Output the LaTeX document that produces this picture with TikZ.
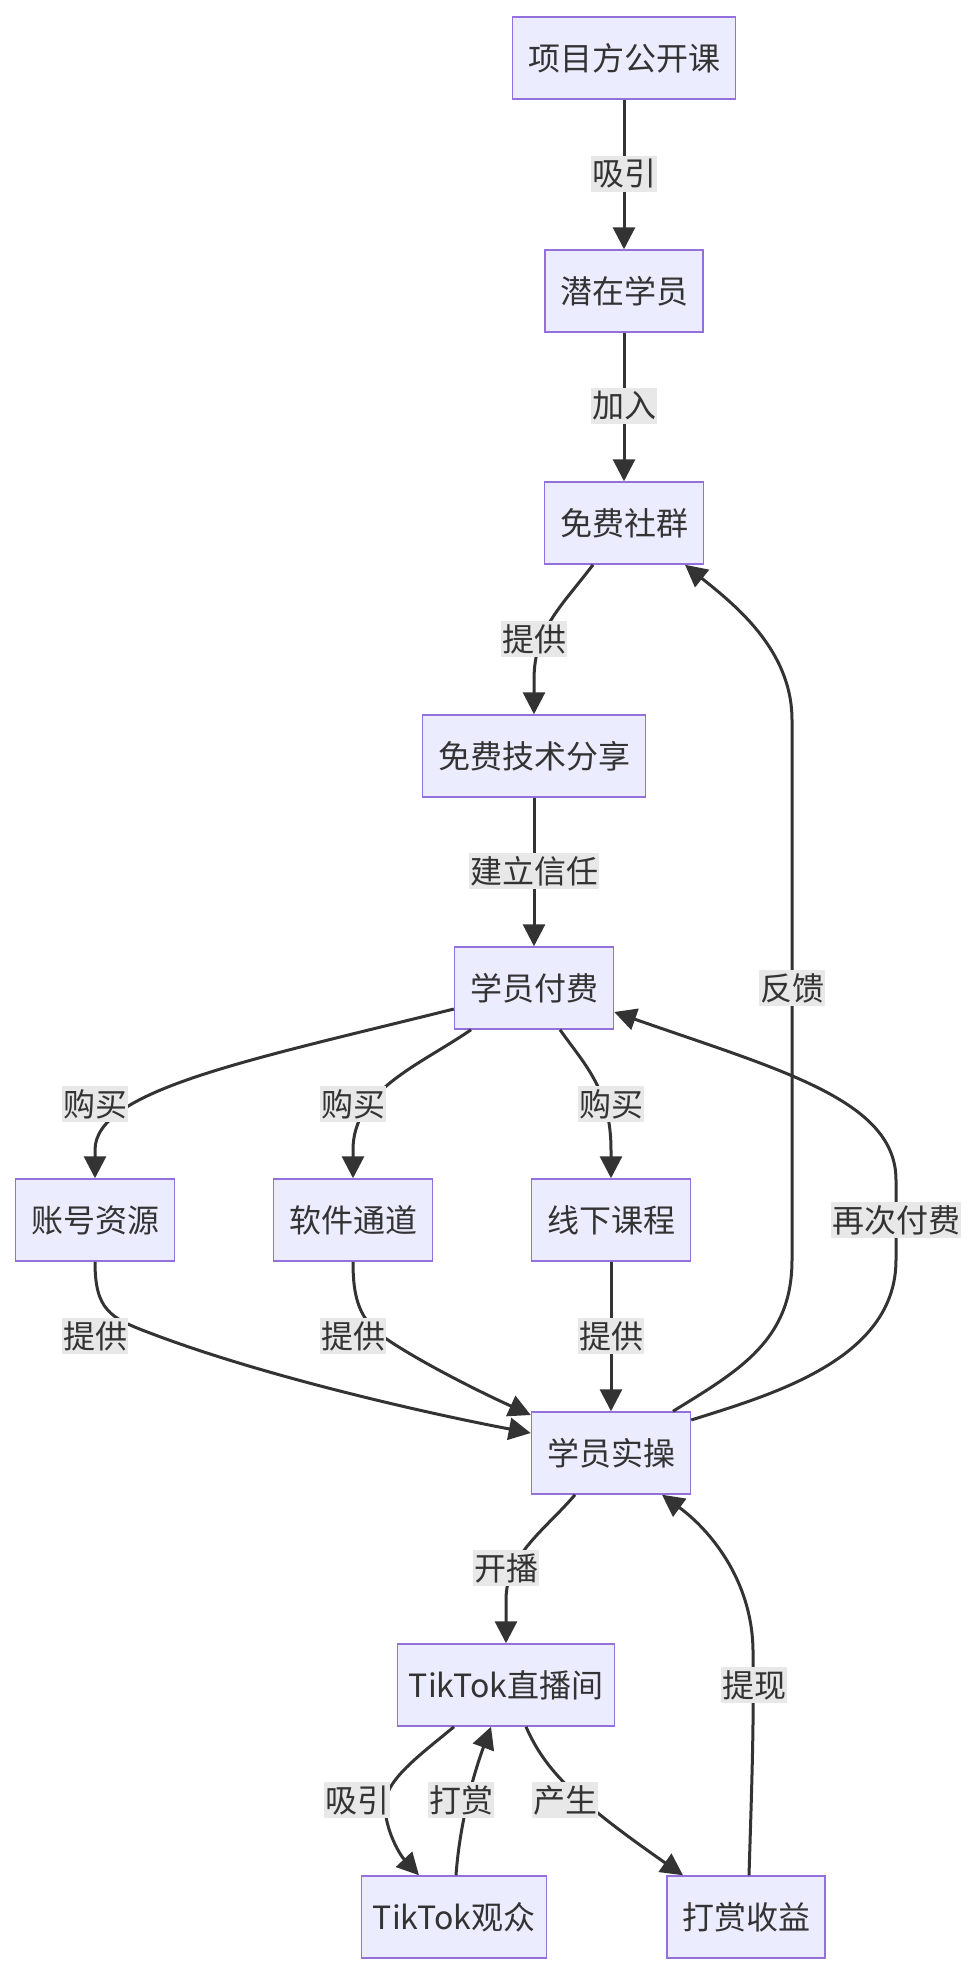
\documentclass[tikz,border=0pt]{standalone}
\usepackage{fontspec}
\setmainfont{Noto Sans CJK SC}
\usetikzlibrary{arrows.meta}
\definecolor{nodefill}{RGB}{236,236,255}
\definecolor{nodeline}{RGB}{147,112,219}
\definecolor{ink}{RGB}{51,51,51}
\definecolor{lblbg}{RGB}{232,232,232}
\begin{document}
\begin{tikzpicture}[x=1pt,y=-1pt,
  box/.style={draw=nodeline, fill=nodefill, line width=1.5pt, minimum height=82pt, inner sep=0pt, text=ink, font=\fontsize{32}{38}\selectfont},
  lbl/.style={fill=lblbg, text=ink, inner xsep=1pt, inner ysep=3pt, font=\fontsize{32}{38}\selectfont},
  edge/.style={draw=ink, line width=3pt, -{Triangle[length=22pt,width=22pt]}}]
\useasboundingbox (0,0) rectangle (976,1974);
% nodes
\node[box, minimum width=223pt] (A) at (624,58) {项目方公开课};
\node[box, minimum width=158pt] (B) at (624,291) {潜在学员};
\node[box, minimum width=159pt] (C) at (624,523) {免费社群};
\node[box, minimum width=223pt] (D) at (534,756) {免费技术分享};
\node[box, minimum width=159pt] (E) at (534,988) {学员付费};
\node[box, minimum width=159pt] (F) at (95,1220) {账号资源};
\node[box, minimum width=159pt] (G) at (353,1220) {软件通道};
\node[box, minimum width=159pt] (H) at (611,1220) {线下课程};
\node[box, minimum width=159pt] (I) at (611,1453) {学员实操};
\node[box, minimum width=217pt] (J) at (506,1685) {TikTok直播间};
\node[box, minimum width=185pt] (K) at (454,1917) {TikTok观众};
\node[box, minimum width=158pt] (L) at (746,1917) {打赏收益};
% edges
\draw[edge] (A) -- (B);
\draw[edge] (B) -- (C);
\draw[edge] ([xshift=-31pt]C.south) .. controls (560,608) and (534,630) .. (534,680) -- (D.north);
\draw[edge] (D) -- (E);
\draw[edge] ([yshift=-21pt]E.west) .. controls (250,1060) and (95,1090) .. (95,1150) -- (F.north);
\draw[edge] ([xshift=-63pt]E.south) .. controls (420,1065) and (353,1090) .. (353,1150) -- (G.north);
\draw[edge] ([xshift=26pt]E.south) .. controls (585,1065) and (611,1090) .. (611,1150) -- (H.north);
\draw[edge] (F.south) .. controls (95,1310) and (110,1318) .. (150,1333) .. controls (260,1375) and (420,1412) .. ([yshift=20pt]I.west);
\draw[edge] (G.south) .. controls (353,1300) and (360,1320) .. (385,1338) .. controls (420,1362) and (480,1392) .. ([yshift=38pt]I.west);
\draw[edge] (H) -- (I);
\draw[edge] ([xshift=62pt]I.north) .. controls (740,1370) and (792,1340) .. (792,1260) -- (792,720) .. controls (792,650) and (735,605) .. ([xshift=61pt]C.south);
\draw[edge] ([yshift=33pt]I.east) .. controls (770,1395) and (896,1360) .. (896,1260) -- (896,1180) .. controls (896,1100) and (780,1070) .. ([yshift=-24pt]E.east);
\draw[edge] ([xshift=-36pt]I.south) .. controls (545,1530) and (506,1555) .. (506,1600) -- (J.north);
\draw[edge] ([xshift=-52pt]J.south) .. controls (420,1755) and (385,1780) .. (385,1805) .. controls (385,1830) and (400,1855) .. ([xshift=-35pt]K.north);
\draw[edge] ([xshift=2pt]K.north) .. controls (460,1820) and (475,1770) .. ([xshift=-15pt]J.south);
\draw[edge] ([xshift=20pt]J.south) .. controls (545,1770) and (575,1800) .. ([xshift=-63pt]L.north);
\draw[edge] ([xshift=3pt]L.north) .. controls (752,1780) and (754,1720) .. (753,1650) .. controls (752,1580) and (710,1530) .. ([xshift=51pt]I.south);
% edge labels
\node[lbl] (l1) at (624,174) {吸引};
\node[lbl] (l2) at (624,406) {加入};
\node[lbl] (l3) at (534,639) {提供};
\node[lbl] (l4) at (534,871) {建立信任};
\node[lbl] (l5) at (95,1104) {购买};
\node[lbl] (l6) at (353,1104) {购买};
\node[lbl] (l7) at (611,1104) {购买};
\node[lbl] (l8) at (95,1336) {提供};
\node[lbl] (l9) at (353,1336) {提供};
\node[lbl] (l10) at (611,1336) {提供};
\node[lbl] (l11) at (792,988) {反馈};
\node[lbl] (l12) at (896,1220) {再次付费};
\node[lbl] (l13) at (506,1568) {开播};
\node[lbl] (l14) at (357,1800) {吸引};
\node[lbl] (l15) at (461,1800) {打赏};
\node[lbl] (l16) at (565,1800) {产生};
\node[lbl] (l17) at (754,1685) {提现};
\end{tikzpicture}
\end{document}
